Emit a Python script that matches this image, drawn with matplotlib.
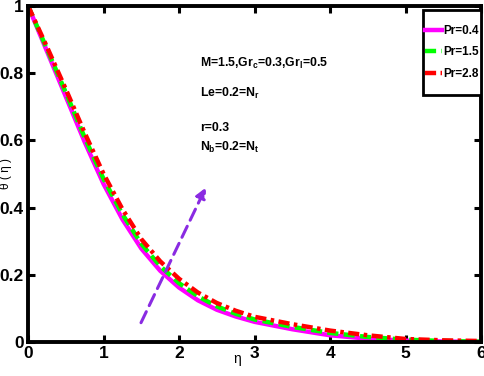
import matplotlib
matplotlib.use("Agg")
import matplotlib.pyplot as plt
from matplotlib.patches import Rectangle

# narrow bold look of the original export; Liberation Sans is the closest installed
plt.rcParams['font.family'] = ['Liberation Sans', 'DejaVu Sans']
plt.rcParams['font.weight'] = 'bold'
plt.rcParams['mathtext.fontset'] = 'custom'
plt.rcParams['mathtext.rm'] = 'Liberation Sans:bold'
plt.rcParams['mathtext.it'] = 'Liberation Sans:bold'
plt.rcParams['mathtext.default'] = 'regular'

# data
eta = [0, 0.25, 0.5, 0.75, 1.0, 1.25, 1.5, 1.75, 2.0, 2.25, 2.5, 2.75, 3.0,
       3.5, 4.0, 4.5, 5.0, 5.5, 6.0]
theta_pr04 = [1.0, 0.865, 0.73, 0.595, 0.47, 0.365, 0.278, 0.212, 0.162, 0.124, 0.096,
              0.076, 0.06, 0.038, 0.02, 0.01, 0.004, 0.0015, 0.0]
theta_pr15 = [1.0, 0.872, 0.742, 0.608, 0.485, 0.38, 0.292, 0.226, 0.175, 0.136, 0.106,
              0.084, 0.067, 0.045, 0.027, 0.015, 0.007, 0.003, 0.001]
theta_pr28 = [1.0, 0.878, 0.752, 0.622, 0.5, 0.395, 0.306, 0.24, 0.188, 0.147, 0.116,
              0.093, 0.075, 0.053, 0.034, 0.02, 0.009, 0.005, 0.003]
labels = ['Pr=0.4', 'Pr=1.5', 'Pr=2.8']

fig = plt.figure(figsize=(4.84, 3.76), dpi=100)
ax = fig.add_axes([0.058, 0.0904, 0.936, 0.894])

ax.plot(eta, theta_pr04, color='#ff00ff', lw=3.2, ls='-', label=labels[0])
ax.plot(eta, theta_pr15, color='#00ff00', lw=3.2, ls=(0, (2.5, 1.2)), label=labels[1])
ax.plot(eta, theta_pr28, color='#ff0000', lw=3.2, ls=(0, (2.5, 1.0, 0.8, 1.0)), label=labels[2])

# arrow showing increasing Pr
ax.annotate('', xy=(2.37, 0.467), xytext=(1.48, 0.05),
            arrowprops=dict(arrowstyle='-|>,head_width=0.3,head_length=0.6',
                            color='#8a2be2', lw=2.2, ls=(0, (4, 2.2))))

tk = dict(fontsize=8.8, fontweight='bold')
ax.text(2.28, 0.83, 'M=1.5,Gr$_c$=0.3,Gr$_l$=0.5', va='center', **tk)
ax.text(2.28, 0.74, 'Le=0.2=N$_r$', va='center', **tk)
ax.text(2.28, 0.637, 'r=0.3', va='center', **tk)
ax.text(2.28, 0.58, 'N$_b$=0.2=N$_t$', va='center', **tk)

ax.set_xlim(0, 6)
ax.set_ylim(0, 1)
ax.set_xticks([0, 1, 2, 3, 4, 5, 6])
ax.set_yticks([0, 0.2, 0.4, 0.6, 0.8, 1])
ax.set_yticklabels(['0', '0.2', '0.4', '0.6', '0.8', '1'])
ax.tick_params(direction='in', top=True, right=True, width=2.2, length=5,
               labelsize=12.5, pad=3)
for s in ax.spines.values():
    s.set_linewidth(2.8)

ax.set_xlabel('η', fontsize=10)
ax.xaxis.set_label_coords(0.461, -0.03)
ax.set_ylabel('θ ( η )', fontsize=8.5)
ax.yaxis.set_label_coords(-0.035, 0.5)

# legend box drawn separately so it can be tight sideways and tall like the original
ax.add_patch(Rectangle((0.872, 0.735), 0.128, 0.253, transform=ax.transAxes,
                       facecolor='white', edgecolor='black', lw=2, zorder=4))
leg = ax.legend(loc='upper right', bbox_to_anchor=(0.996, 0.943), handlelength=1.45,
                handletextpad=0.15, borderaxespad=0, borderpad=0, labelspacing=0.8,
                frameon=False, prop={'weight': 'bold', 'size': 8.5})
leg.set_zorder(5)

fig.savefig('out.png', dpi=100)
